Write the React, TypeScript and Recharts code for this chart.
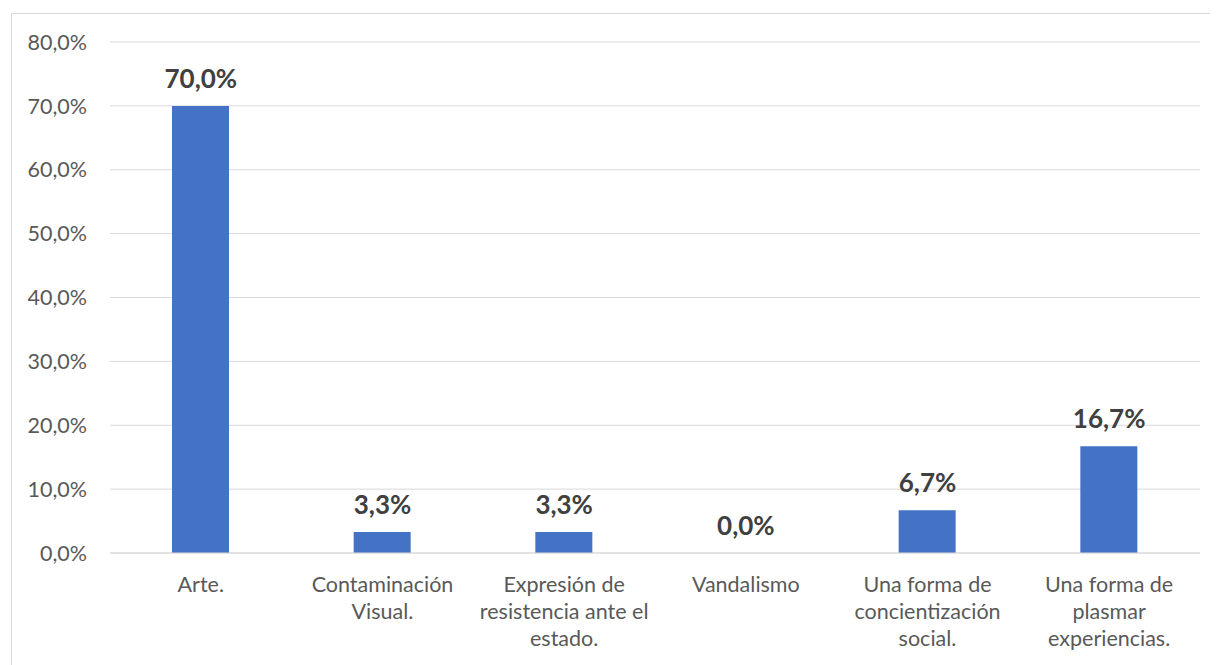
import React from "react";
import { ComposedChart, Bar, Line, XAxis, YAxis, CartesianGrid, LabelList } from "recharts";

const categories = [
  "Arte.",
  "Contaminación\nVisual.",
  "Expresión de\nresistencia ante el\nestado.",
  "Vandalismo",
  "Una forma de\nconcientización\nsocial.",
  "Una forma de\nplasmar\nexperiencias.",
];
const values = [70.0, 3.3, 3.3, 0.0, 6.7, 16.7];
const yTicks = [0, 10, 20, 30, 40, 50, 60, 70, 80];

const data = categories.map((c, i) => ({ name: c, value: values[i] }));

const FONT = "Lato, 'Open Sans', sans-serif";
const fmt = (v: number) => v.toFixed(1).replace(".", ",") + "%";

const XTick = (props: any) => {
  const { x, y, payload } = props;
  const lines = String(payload.value).split("\n");
  return (
    <g>
      {lines.map((l: string, i: number) => (
        <text
          key={i}
          x={x}
          y={y + 39 + i * 27}
          textAnchor="middle"
          fill="#595959"
          fontSize={21.5}
          fontFamily={FONT}
        >
          {l}
        </text>
      ))}
    </g>
  );
};

export default function App() {
  return (
    <div style={{ position: "relative", width: 1210, height: 657 }}>
      <div
        style={{
          position: "absolute",
          left: 3,
          top: 5,
          width: 1210,
          height: 652,
          borderTop: "1px solid #d9d9d9",
          borderLeft: "1px solid #d9d9d9",
          borderRight: "1px solid #d9d9d9",
          boxSizing: "border-box",
        }}
      />
      <div style={{ position: "absolute", left: 0, top: 0 }}>
        <ComposedChart
          width={1210}
          height={657}
          data={data}
          margin={{ top: 34, right: 18, left: 0, bottom: 12 }}
        >
          <CartesianGrid vertical={false} stroke="#d9d9d9" strokeWidth={1} />
          <XAxis
            dataKey="name"
            axisLine={{ stroke: "#d9d9d9" }}
            tickLine={false}
            tickSize={0}
            tickMargin={0}
            height={100}
            interval={0}
            tick={<XTick />}
          />
          <YAxis
            domain={[0, 80]}
            ticks={yTicks}
            width={102}
            axisLine={false}
            tickLine={false}
            tickSize={0}
            tickMargin={23}
            tickFormatter={fmt}
            tick={{ fill: "#595959", fontSize: 21.5, fontFamily: FONT }}
          />
          <Bar dataKey="value" fill="#4472C4" barSize={57} isAnimationActive={false} />
          <Line
            dataKey="value"
            stroke="none"
            dot={false}
            activeDot={false}
            legendType="none"
            isAnimationActive={false}
          >
            <LabelList
              dataKey="value"
              position="top"
              offset={18}
              formatter={(v: any) => fmt(Number(v))}
              style={{ fill: "#404040", fontSize: 26, fontWeight: 700, fontFamily: FONT }}
            />
          </Line>
        </ComposedChart>
      </div>
    </div>
  );
}
